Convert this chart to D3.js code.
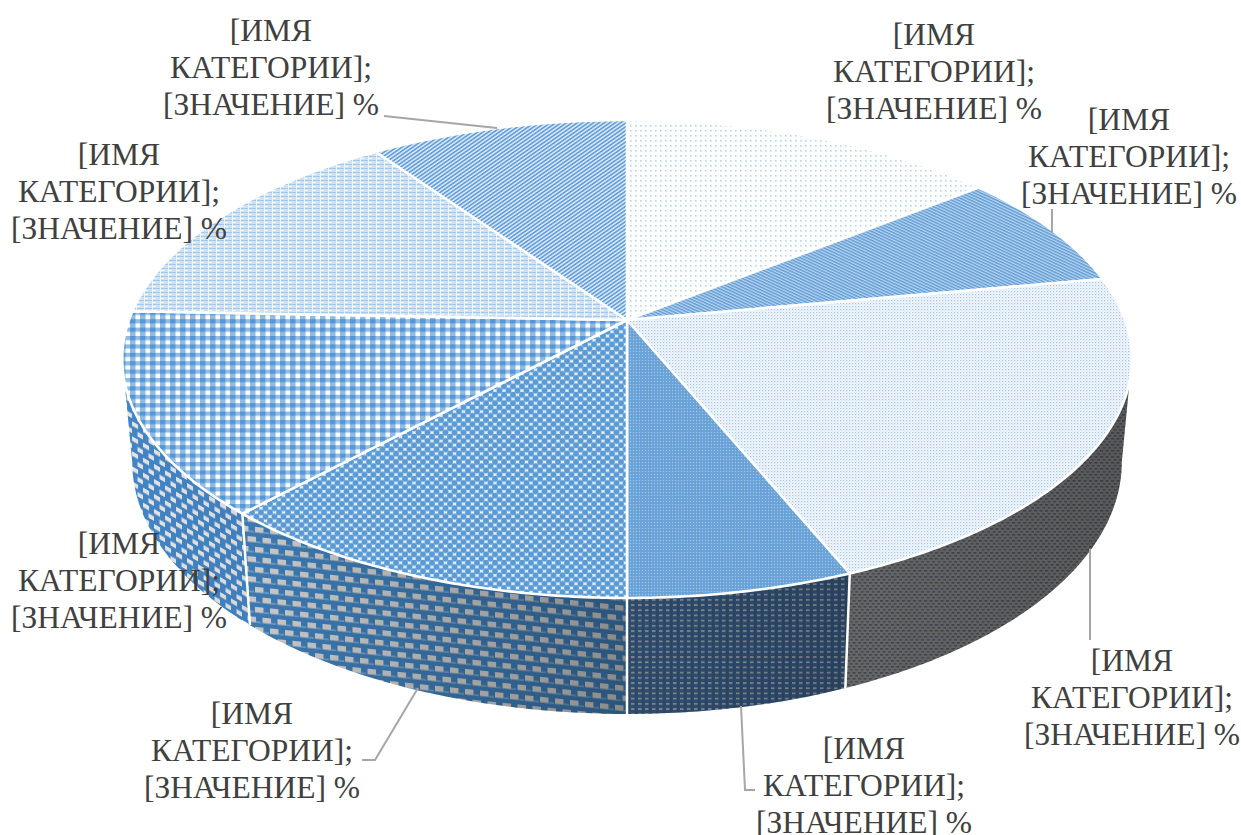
<!DOCTYPE html>
<html><head><meta charset="utf-8">
<script src="https://cdn.jsdelivr.net/npm/d3@7/dist/d3.min.js"></script>
<style>html,body{margin:0;padding:0;background:#fff}svg{display:block}</style>
</head><body><svg id="c" width="1241" height="835"></svg>
<script>
const categories = ["A","B","C","D","E","F","G","H"];
const values = [14.2, 7.9, 21.7, 6.2, 11.9, 13.7, 14.7, 9.7];
const labelLines = ["[ИМЯ","КАТЕГОРИИ];","[ЗНАЧЕНИЕ] %"];

// layout only (not data)
const labelPos = [[934,45],[1129,130],[1132,671],[864,759],[252,724],[119,554],[119,165],[271,41]];
const leaders = [
  [],
  [[1052,209],[1052,232]],
  [[1090,549],[1090,640]],
  [[741,706],[745,790],[755,790]],
  [[418,688],[375,760],[362,760]],
  [],
  [],
  [[384,116],[497,128]]
];

const svg = d3.select("#c");
const defs = svg.append("defs");

function pat(id,w,h,bg,draw,tf){
  const p = defs.append("pattern").attr("id",id).attr("patternUnits","userSpaceOnUse")
    .attr("width",w).attr("height",h);
  if(tf) p.attr("patternTransform",tf);
  p.append("rect").attr("width",w).attr("height",h).attr("fill",bg);
  draw(p);
}
const r=(p,x,y,w,h,f)=>p.append("rect").attr("x",x).attr("y",y).attr("width",w).attr("height",h).attr("fill",f);
const c=(p,x,y,rad,f)=>p.append("circle").attr("cx",x).attr("cy",y).attr("r",rad).attr("fill",f);

pat("t0",5,5,"#feffff",p=>{r(p,0,0,2,2,"#dbe9f6");r(p,0,0,1,1,"#b5d1ec");});
pat("t1",2.7,2.7,"#bcd5ee",p=>{r(p,0,0,2.7,1.4,"#5b9bd5");},"rotate(25)");
pat("t2",3,3,"#f0f6fb",p=>{r(p,0,0,1.2,1.2,"#a4c7e9");r(p,1.5,1.5,1,1,"#cfe1f3");});
pat("t3",3,3,"#6ea6da",p=>{r(p,0,0,1,1,"#a5c6e8");r(p,1.5,1.5,1,1,"#5b95cf");});
pat("t4",9,8.4,"#e8f2fa",p=>{
  [[0,0],[9,0],[0,8.4],[9,8.4],[4.5,4.2]].forEach(d=>c(p,d[0],d[1],2.95,"#5b9bd5"));
});
pat("t5",10,8.4,"#90bce6",p=>{
  r(p,0,0,5.5,4.2,"#5696d4");r(p,5.5,4.2,4.5,4.2,"#fbfdff");
});
pat("t6",8,4,"#cfe1f4",p=>{
  r(p,0,0,8,1,"#a6c8ea");r(p,0,2,4,1,"#f4f9fd");r(p,0,0,1,4,"#eef5fb");
});
pat("t7",3.1,3.1,"#e2edf8",p=>{r(p,0,0,3.1,1.7,"#629fdb");},"rotate(-35)");

pat("s2",5.5,6,"#b0b0b0",p=>{r(p,0,0,3,1.6,"#6a7686");r(p,2.7,3,3,1.6,"#74808c");});
pat("s3",7,5.2,"#4674a8",p=>{r(p,1,1,3.5,1.7,"#cdd0d3");r(p,5.4,0,1.2,5.2,"#3d689a");});
pat("s4",15,20,"#3f7fba",p=>{
  r(p,0,0,8.5,5.5,"#d2d2d2");r(p,7.5,10,7.5,5.5,"#d2d2d2");r(p,0,10,1,5.5,"#d2d2d2");
  r(p,1,14.5,5,1.2,"#8fb4d6");r(p,9,4.5,5,1.2,"#8fb4d6");
},"skewY(6)");
pat("s5",11,15,"#4285c6",p=>{
  r(p,0,0,6,4.5,"#e4e4e4");r(p,5.5,7.5,5.5,4.5,"#e4e4e4");
},"skewY(30)");

const g = defs.append("linearGradient").attr("id","shade").attr("gradientUnits","userSpaceOnUse")
  .attr("x1",122).attr("x2",1132).attr("y1",0).attr("y2",0);
[[0,0],[.13,.05],[.5,.34],[.72,.42],[1,.5]].forEach(s=>
  g.append("stop").attr("offset",s[0]).attr("stop-color","#000").attr("stop-opacity",s[1]));

// pie angles
const arcs = d3.pie().sort(null).value(d=>d)(values);

// tilted-disc projection; the lower rim is an ellipse with its own centre and radii
const cx=627, cy=320, B=498, A=232.6, P=0.1632;
const ell={top:{cy:359,rx:505,ry:239}, low:{cy:462,rx:495,ry:252}};
function proj(a,low){
  const u=Math.sin(a), v=Math.cos(a), w=1+P*v;
  const x=cx+B*u/w, y=cy-A*v/w;
  if(!low) return [x,y];
  const ex=(x-cx)/ell.top.rx, ey=(y-ell.top.cy)/ell.top.ry;
  return [cx+ex*ell.low.rx, ell.low.cy+ey*ell.low.ry];
}
const line=d3.line();
const sampled=(a0,a1)=>{
  const n=Math.max(2,Math.ceil(Math.abs(a1-a0)/0.01));
  return d3.range(n+1).map(i=>a0+(a1-a0)*i/n);
};

// side wall: visible from one silhouette tangent to the other
const sideG=svg.append("g");
const lo=Math.acos(-P), hi=2*Math.PI-lo;
arcs.forEach((d,i)=>{
  const a0=Math.max(d.startAngle,lo), a1=Math.min(d.endAngle,hi);
  if(a1<=a0) return;
  const pts=sampled(a0,a1).map(a=>proj(a,false)).concat(sampled(a1,a0).map(a=>proj(a,true)));
  sideG.append("path").attr("d",line(pts)+"Z").attr("fill",`url(#s${i})`);
  sideG.append("path").attr("d",line(pts)+"Z").attr("fill","url(#shade)");
});
arcs.forEach(d=>{
  if(d.endAngle>lo && d.endAngle<hi){
    sideG.append("path").attr("d",line([proj(d.endAngle,false),proj(d.endAngle,true)]))
      .attr("stroke","#fff").attr("stroke-width",2.5).attr("fill","none");
  }
});

// top face
const topG=svg.append("g");
arcs.forEach((d,i)=>{
  const pts=[[cx,cy]].concat(sampled(d.startAngle,d.endAngle).map(a=>proj(a,false)));
  topG.append("path").attr("d",line(pts)+"Z").attr("fill",`url(#t${i})`)
    .attr("stroke","#fff").attr("stroke-width",2.6).attr("stroke-linejoin","round");
});

// leaders
leaders.forEach(l=>{ if(l.length) svg.append("path").attr("d",line(l))
  .attr("fill","none").attr("stroke","#a6a6a6").attr("stroke-width",2); });

// labels
categories.forEach((k,i)=>{
  const t=svg.append("text").attr("text-anchor","middle")
    .attr("font-family","'Liberation Serif','Times New Roman',serif")
    .attr("font-size",31.5).attr("fill","#404040");
  labelLines.forEach((s,j)=>t.append("tspan").attr("x",labelPos[i][0]).attr("y",labelPos[i][1]+j*37).text(s));
});
</script></body></html>
